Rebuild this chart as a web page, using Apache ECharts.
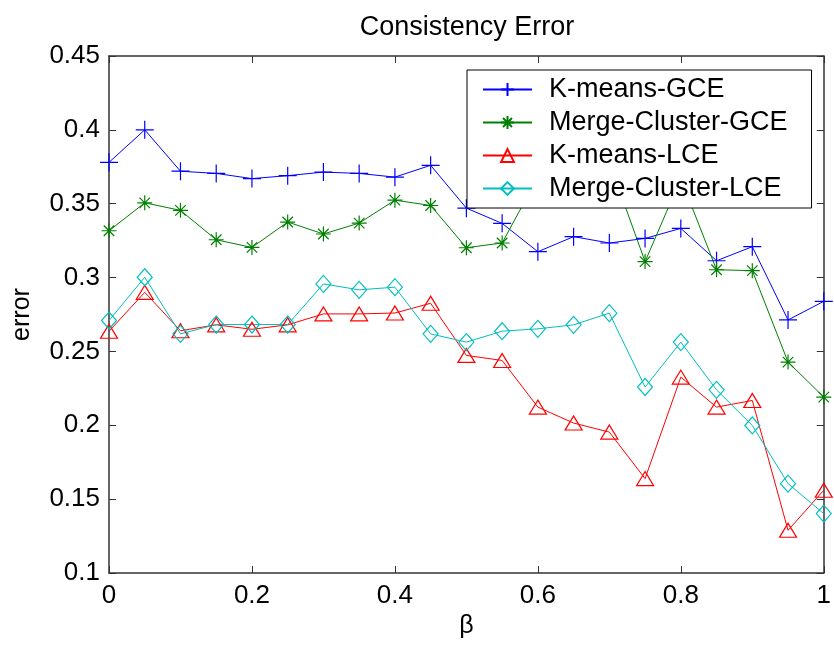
<!DOCTYPE html>
<html>
<head>
<meta charset="utf-8">
<script src="https://cdn.jsdelivr.net/npm/echarts@6/dist/echarts.min.js"></script>
<style>
  html, body { margin: 0; padding: 0; background: #fff; }
  #chart { width: 834px; height: 645px; }
</style>
</head>
<body>
<div id="chart"></div>
<script>
// beta values along the x axis
const beta = [0, 0.05, 0.1, 0.15, 0.2, 0.25, 0.3, 0.35, 0.4, 0.45, 0.5,
              0.55, 0.6, 0.65, 0.7, 0.75, 0.8, 0.85, 0.9, 0.95, 1.0];

const seriesNames = ['K-means-GCE', 'Merge-Cluster-GCE', 'K-means-LCE', 'Merge-Cluster-LCE'];

const kmeansGCE = [0.378, 0.400, 0.372, 0.3705, 0.367, 0.369, 0.3714, 0.3705, 0.368, 0.376, 0.347,
                   0.3367, 0.3175, 0.3277, 0.3234, 0.3265, 0.3333, 0.3114, 0.3209, 0.2713, 0.2839];

const mergeGCE = [0.3317, 0.3506, 0.3455, 0.3256, 0.3204, 0.3376, 0.3295, 0.3369, 0.3524, 0.3488, 0.3202,
                  0.3234, 0.368, 0.362, 0.378, 0.3108, 0.367, 0.3053, 0.3047, 0.2428, 0.2191];

const kmeansLCE = [0.2637, 0.290, 0.264, 0.268, 0.265, 0.268, 0.2754, 0.2754, 0.276, 0.2826, 0.2473,
                   0.2439, 0.2123, 0.2015, 0.1954, 0.1639, 0.2326, 0.2123, 0.2168, 0.1289, 0.156];

const mergeLCE = [0.2709, 0.3002, 0.2619, 0.2682, 0.2682, 0.2682, 0.2957, 0.2917, 0.2935, 0.2619, 0.2563,
                  0.2637, 0.2653, 0.268, 0.2759, 0.2259, 0.2563, 0.224, 0.1999, 0.1605, 0.1402];

const font = "'Liberation Sans', Arial, sans-serif";
const axisColor = '#333';

const plusPath = 'path://M0,-1L0,1M-1,0L1,0';
const starPath = 'path://M0,-1L0,1M-1,0L1,0M-0.7,-0.7L0.7,0.7M-0.7,0.7L0.7,-0.7';

function pairs(ys) {
  return beta.map((x, i) => [x, ys[i]]);
}

function lineSeries(name, ys, color, symbol, size) {
  return {
    name: name,
    type: 'line',
    data: pairs(ys),
    symbol: symbol,
    symbolSize: size,
    showAllSymbol: true,
    animation: false,
    lineStyle: { color: color, width: 1 },
    itemStyle: { color: 'rgba(0,0,0,0)', borderColor: color, borderWidth: 1.2 },
    emphasis: { disabled: true }
  };
}

const chart = echarts.init(document.getElementById('chart'), null, { renderer: 'canvas' });

chart.setOption({
  backgroundColor: '#fff',
  animation: false,
  title: {
    text: 'Consistency Error',
    left: 467,
    top: 14,
    padding: 0,
    textAlign: 'center',
    textStyle: { fontFamily: font, fontSize: 27, fontWeight: 'normal', color: '#000' }
  },
  grid: { left: 109, top: 56, right: 8, bottom: 72, containLabel: false },
  legend: {
    orient: 'vertical',
    left: 467,
    top: 70,
    padding: [6, 24, 6, 15],
    itemGap: 6,
    itemWidth: 49,
    itemHeight: 16,
    backgroundColor: '#fff',
    borderColor: '#000',
    borderWidth: 1,
    borderRadius: 0,
    data: seriesNames,
    textStyle: { fontFamily: font, fontSize: 27, color: '#000', lineHeight: 26, padding: [0, 0, 0, 12] }
  },
  xAxis: [{
    type: 'value',
    min: 0, max: 1, interval: 0.2,
    name: 'β',
    nameLocation: 'middle',
    nameGap: 32,
    nameTextStyle: { fontFamily: font, fontSize: 25, color: '#000' },
    axisLine: { show: true, lineStyle: { color: axisColor, width: 1.5 } },
    axisTick: { show: true, inside: true, length: 7, lineStyle: { color: axisColor } },
    axisLabel: { fontFamily: font, fontSize: 26, color: '#000', margin: 10 },
    splitLine: { show: false }
  }, {
    type: 'value',
    position: 'top',
    min: 0, max: 1, interval: 0.2,
    axisLine: { show: true, onZero: false, lineStyle: { color: axisColor, width: 1.5 } },
    axisTick: { show: true, inside: true, length: 7, lineStyle: { color: axisColor } },
    axisLabel: { show: false },
    splitLine: { show: false }
  }],
  yAxis: [{
    type: 'value',
    min: 0.1, max: 0.45, interval: 0.05,
    name: 'error',
    nameLocation: 'middle',
    nameGap: 74,
    nameRotate: 90,
    nameTextStyle: { fontFamily: font, fontSize: 25, color: '#000' },
    axisLine: { show: true, lineStyle: { color: axisColor, width: 1.5 } },
    axisTick: { show: true, inside: true, length: 7, lineStyle: { color: axisColor } },
    axisLabel: { fontFamily: font, fontSize: 26, color: '#000', margin: 9 },
    splitLine: { show: false }
  }, {
    type: 'value',
    position: 'right',
    min: 0.1, max: 0.45, interval: 0.05,
    axisLine: { show: true, onZero: false, lineStyle: { color: axisColor, width: 1.5 } },
    axisTick: { show: true, inside: true, length: 7, lineStyle: { color: axisColor } },
    axisLabel: { show: false },
    splitLine: { show: false }
  }],
  series: [
    lineSeries(seriesNames[0], kmeansGCE, '#0000ff', plusPath, 18),
    lineSeries(seriesNames[1], mergeGCE, '#008000', starPath, 15),
    lineSeries(seriesNames[2], kmeansLCE, '#ff0000', 'triangle', [17, 14]),
    lineSeries(seriesNames[3], mergeLCE, '#00bfbf', 'diamond', [15, 17])
  ]
});
</script>
</body>
</html>
